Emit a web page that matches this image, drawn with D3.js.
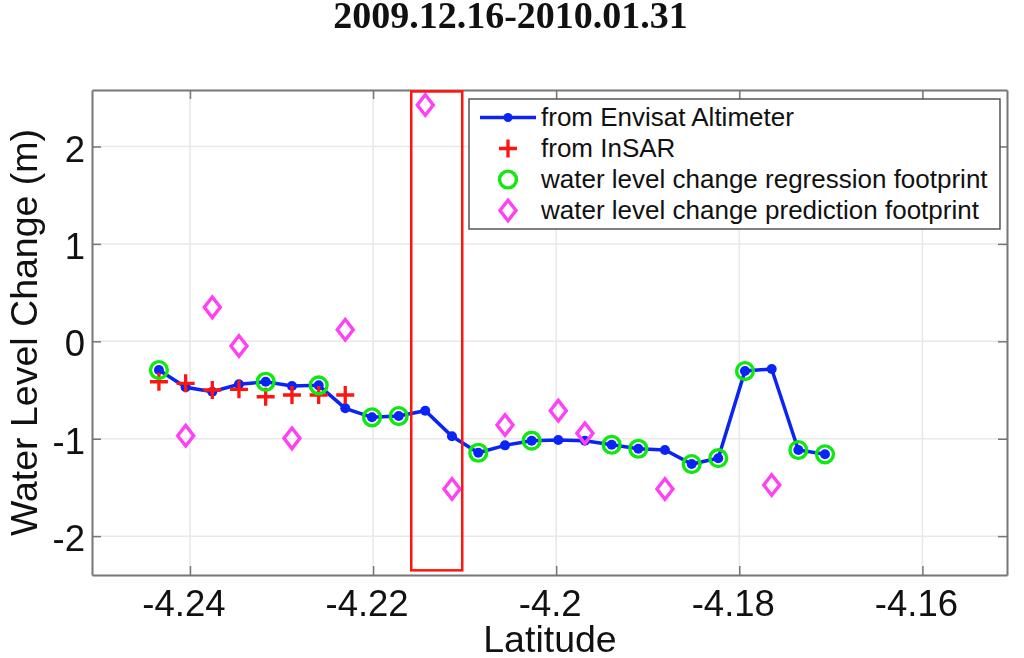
<!DOCTYPE html>
<html>
<head>
<meta charset="utf-8">
<script src="https://cdn.jsdelivr.net/npm/d3@7"></script>
<style>
  body { margin: 0; background: #fff; }
  svg { display: block; filter: blur(0.5px); }
  text { font-family: "Liberation Sans", Arial, sans-serif; fill: #111; }
  .grid line { stroke: #e8e8e8; stroke-width: 1.5; }
</style>
</head>
<body>
<svg id="chart" width="1024" height="658"></svg>
<script>
// Values
const latitudes = [-4.24339, -4.24047, -4.23756, -4.23465, -4.23173, -4.22886, -4.22594, -4.22304,
  -4.22012, -4.2172, -4.2143, -4.21138, -4.20851, -4.20559, -4.20268, -4.19977, -4.19686, -4.19394,
  -4.19103, -4.18812, -4.1852, -4.1823, -4.17938, -4.17646, -4.17355, -4.17064];
const altimeter = [-0.295, -0.472, -0.517, -0.441, -0.415, -0.459, -0.452, -0.688,
  -0.78, -0.767, -0.713, -0.975, -1.144, -1.068, -1.02, -1.013, -1.02, -1.062,
  -1.103, -1.116, -1.26, -1.2, -0.305, -0.284, -1.116, -1.16];
const insar = [-0.415, -0.431, -0.5, -0.493, -0.569, -0.551, -0.551, -0.551];
const regressionIdx = [0, 4, 6, 8, 9, 12, 14, 17, 18, 20, 21, 22, 24, 25];
const predictionIdx = [1, 2, 3, 5, 7, 10, 11, 13, 15, 16, 19, 23];
const prediction = [-0.969, 0.349, -0.048, -0.996, 0.119, 2.426, -1.516, -0.859, -0.712, -0.945, -1.516, -1.475];
const xTicks = [-4.24, -4.22, -4.2, -4.18, -4.16];
const yTicks = [-2, -1, 0, 1, 2];
const boxLat = [-4.21583, -4.21026];
const boxLevel = [-2.351, 2.565];
const legendLabels = ['from Envisat Altimeter', 'from InSAR', 'water level change regression footprint', 'water level change prediction footprint'];

const plotLeft = 92, plotRight = 1007, plotTop = 90, plotBottom = 575;
const blue = '#0a24f5', red = '#ff1410', green = '#10e810', pink = '#ff40f5';

const x = d3.scaleLinear().domain([-4.25070, -4.15076]).range([plotLeft, plotRight]);
const y = d3.scaleLinear().domain([-2.399, 2.58]).range([plotBottom, plotTop]);

const svg = d3.select('#chart');
const fmt = d => String(d);   // plain hyphen like the original labels

svg.append('text').attr('x', 510.5).attr('y', 28).attr('text-anchor', 'middle')
  .style('font-family', '"Liberation Serif", serif').style('font-weight', 'bold').style('font-size', '38px')
  .text('2009.12.16-2010.01.31');

// Grid
const grid = svg.append('g').attr('class', 'grid');
grid.selectAll('.v').data(xTicks).join('line').attr('class', 'v')
  .attr('x1', d => x(d)).attr('x2', d => x(d)).attr('y1', plotTop).attr('y2', plotBottom);
grid.selectAll('.h').data(yTicks).join('line').attr('class', 'h')
  .attr('x1', plotLeft).attr('x2', plotRight).attr('y1', d => y(d)).attr('y2', d => y(d));

// Axes, ticks pointing inward on all four sides
function styleAxis(g) {
  g.selectAll('.domain').attr('stroke', '#777').attr('stroke-width', 2);
  g.selectAll('.tick line').attr('stroke', '#777').attr('stroke-width', 1.5);
  g.selectAll('.tick text').style('font-size', '36.5px').style('font-family', '"Liberation Sans", Arial, sans-serif').attr('fill', '#111');
}
svg.append('g').attr('transform', `translate(0,${plotBottom})`)
  .call(d3.axisBottom(x).tickValues(xTicks).tickFormat(fmt).tickSizeInner(-9).tickSizeOuter(0).tickPadding(40.7))
  .call(styleAxis)
  .call(g => g.selectAll('.tick text').attr('dy', 0).attr('dx', -6.5));
svg.append('g').attr('transform', `translate(0,${plotTop})`)
  .call(d3.axisTop(x).tickValues(xTicks).tickFormat('').tickSizeInner(-9).tickSizeOuter(0))
  .call(styleAxis);
svg.append('g').attr('transform', `translate(${plotLeft},0)`)
  .call(d3.axisLeft(y).tickValues(yTicks).tickFormat(fmt).tickSizeInner(-9).tickSizeOuter(0).tickPadding(7))
  .call(styleAxis)
  .call(g => g.selectAll('.tick text').attr('dy', '0.4em'));
svg.append('g').attr('transform', `translate(${plotRight},0)`)
  .call(d3.axisRight(y).tickValues(yTicks).tickFormat('').tickSizeInner(-9).tickSizeOuter(0))
  .call(styleAxis);

svg.append('text').attr('x', 550).attr('y', 652).attr('text-anchor', 'middle').style('font-size', '37.5px').text('Latitude');
svg.append('text').attr('transform', 'translate(36.7,332.5) rotate(-90)').attr('text-anchor', 'middle').style('font-size', '37.5px').text('Water Level Change (m)');

// Marker shapes
const plusPath = (r) => `M${-r},0H${r}M0,${-r}V${r}`;
const diamondPath = (w, h) => `M0,${-h}L${w},0L0,${h}L${-w},0Z`;

// Series
const line = d3.line().x((d, i) => x(latitudes[i])).y(d => y(d));
svg.append('path').datum(altimeter).attr('d', line).attr('fill', 'none').attr('stroke', blue).attr('stroke-width', 3.5);
svg.selectAll('.dot').data(altimeter).join('circle').attr('class', 'dot')
  .attr('cx', (d, i) => x(latitudes[i])).attr('cy', d => y(d)).attr('r', 5).attr('fill', blue);

svg.selectAll('.plus').data(insar).join('path').attr('class', 'plus')
  .attr('transform', (d, i) => `translate(${x(latitudes[i])},${y(d)})`)
  .attr('d', plusPath(9)).attr('fill', 'none').attr('stroke', red).attr('stroke-width', 3.3);

svg.selectAll('.reg').data(regressionIdx).join('circle').attr('class', 'reg')
  .attr('cx', i => x(latitudes[i])).attr('cy', i => y(altimeter[i])).attr('r', 8.4)
  .attr('fill', 'none').attr('stroke', green).attr('stroke-width', 3.4);

svg.selectAll('.pred').data(prediction).join('path').attr('class', 'pred')
  .attr('transform', (d, i) => `translate(${x(latitudes[predictionIdx[i]])},${y(d)})`)
  .attr('d', diamondPath(8, 10.3)).attr('fill', 'none').attr('stroke', pink).attr('stroke-width', 3.4);

// Red box
svg.append('rect').attr('x', x(boxLat[0])).attr('y', y(boxLevel[1]))
  .attr('width', x(boxLat[1]) - x(boxLat[0])).attr('height', y(boxLevel[0]) - y(boxLevel[1]))
  .attr('fill', 'none').attr('stroke', red).attr('stroke-width', 2.5);

// Legend
const legend = svg.append('g').attr('transform', 'translate(469,99)');
legend.append('rect').attr('width', 531).attr('height', 130).attr('fill', '#fff').attr('stroke', '#555').attr('stroke-width', 1.5);
const rowY = i => 18.5 + i * 31;
legend.selectAll('.lab').data(legendLabels).join('text').attr('class', 'lab')
  .attr('x', 72).attr('y', (d, i) => rowY(i) + 8).style('font-size', '26px').text(d => d);
legend.append('line').attr('x1', 11).attr('x2', 67).attr('y1', rowY(0)).attr('y2', rowY(0)).attr('stroke', blue).attr('stroke-width', 3.5);
legend.append('circle').attr('cx', 39).attr('cy', rowY(0)).attr('r', 4.5).attr('fill', blue);
legend.append('path').attr('transform', `translate(39,${rowY(1)})`).attr('d', plusPath(9)).attr('fill', 'none').attr('stroke', red).attr('stroke-width', 3.3);
legend.append('circle').attr('cx', 39).attr('cy', rowY(2)).attr('r', 8.4).attr('fill', 'none').attr('stroke', green).attr('stroke-width', 3.4);
legend.append('path').attr('transform', `translate(39,${rowY(3)})`).attr('d', diamondPath(8, 10.3)).attr('fill', 'none').attr('stroke', pink).attr('stroke-width', 3.4);
</script>
</body>
</html>
